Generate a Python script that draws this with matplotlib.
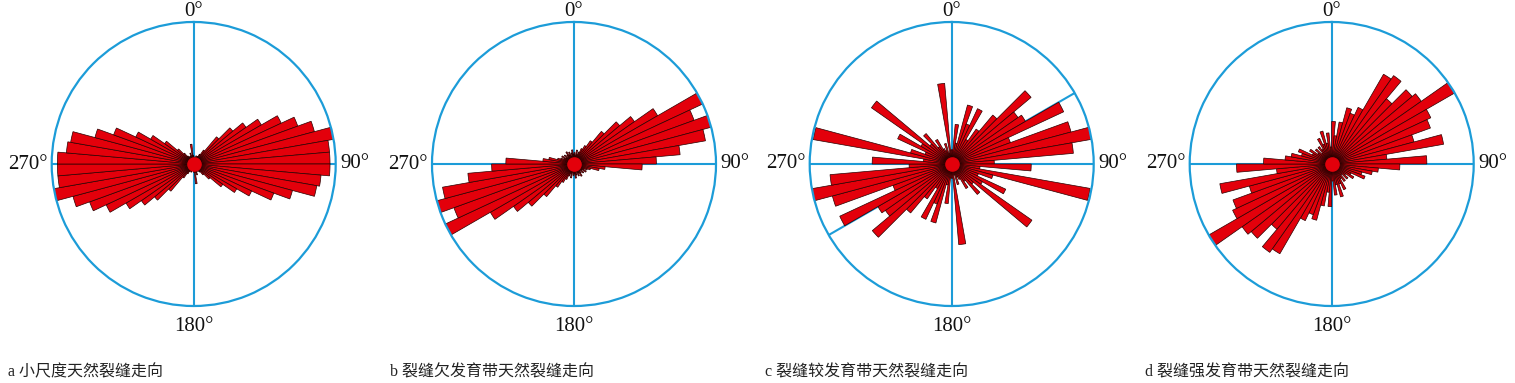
# -*- coding: utf-8 -*-
"""裂缝走向玫瑰花图 (4 个子图), 5° 分组, 走向双向对称."""
import numpy as np
import matplotlib
matplotlib.use("Agg")
import matplotlib.pyplot as plt

# 分组中心角 (0-180°, 5° 一组), 180-360 镜像
bins = np.arange(2.5, 180, 5)

# 相对长度 (最大 = 1)
len_a = [0.05, 0.04, 0.05, 0.06, 0.05, 0.06, 0.08, 0.12, 0.25, 0.36, 0.45, 0.55,
         0.68, 0.78, 0.88, 1.00, 0.96, 0.96, 0.96, 0.90, 0.88, 0.72, 0.60, 0.45,
         0.35, 0.25, 0.15, 0.10, 0.07, 0.06, 0.05, 0.06, 0.08, 0.06, 0.14, 0.06]
len_b = [0.08, 0.06, 0.10, 0.07, 0.09, 0.12, 0.15, 0.20, 0.30, 0.42, 0.52, 0.68,
         1.00, 0.90, 1.00, 0.94, 0.75, 0.58, 0.48, 0.22, 0.18, 0.12, 0.10, 0.08,
         0.10, 0.07, 0.09, 0.06, 0.08, 0.10, 0.07, 0.09, 0.06, 0.08, 0.10, 0.07]
len_c = [0.10, 0.28, 0.15, 0.43, 0.30, 0.43, 0.20, 0.30, 0.45, 0.73, 0.57, 0.60,
         0.87, 0.44, 0.87, 1.00, 0.86, 0.30, 0.56, 0.20, 0.99, 0.30, 0.20, 0.42,
         0.25, 0.69, 0.20, 0.28, 0.15, 0.20, 0.12, 0.10, 0.15, 0.08, 0.57, 0.10]
len_d = [0.30, 0.20, 0.30, 0.41, 0.38, 0.44, 0.73, 0.76, 0.60, 0.74, 0.77, 1.00,
         0.77, 0.74, 0.60, 0.80, 0.39, 0.67, 0.48, 0.33, 0.29, 0.22, 0.25, 0.15,
         0.18, 0.12, 0.15, 0.10, 0.15, 0.12, 0.20, 0.15, 0.24, 0.15, 0.22, 0.12]
mean_dir = [None, 63, 60, 59]   # 优势方位线 (°)
captions = ["a 小尺度天然裂缝走向", "b 裂缝欠发育带天然裂缝走向",
            "c 裂缝较发育带天然裂缝走向", "d 裂缝强发育带天然裂缝走向"]

BLUE = "#1c9cd8"
RED = "#e3000b"
W, H = 1515, 383
cx_list = [193.7, 574, 951.7, 1331.7]
cap_x = [8, 390, 765, 1145]
CY, R = 164, 142
LBL = dict(family="Liberation Serif", fontsize=15, color="#111111")

fig = plt.figure(figsize=(W / 100, H / 100), dpi=100)
for i, vals in enumerate([len_a, len_b, len_c, len_d]):
    cx = cx_list[i]
    ax = fig.add_axes([(cx - R) / W, (H - CY - R) / H, 2 * R / W, 2 * R / H],
                      projection="polar")
    ax.set_theta_zero_location("N")
    ax.set_theta_direction(-1)
    ax.set_ylim(0, 1)
    ax.grid(False)
    ax.set_xticks([]); ax.set_yticks([])
    ax.spines["polar"].set_color(BLUE)
    ax.spines["polar"].set_linewidth(1.6)
    # 十字线
    for t in [0, 90, 180, 270]:
        ax.plot([np.deg2rad(t)] * 2, [0, 1], color=BLUE, lw=1.5, zorder=1)
    if mean_dir[i] is not None:
        for t in [mean_dir[i], mean_dir[i] + 180]:
            ax.plot([np.deg2rad(t)] * 2, [0, 1], color=BLUE, lw=1.5, zorder=1)
    theta = np.deg2rad(np.concatenate([bins, bins + 180]))
    r = np.concatenate([vals, vals])
    ax.bar(theta, r, width=np.deg2rad(5), color=RED, edgecolor="#2a0000",
           lw=0.5, zorder=2)
    ax.plot(0, 0, "o", ms=9.5, color=RED, zorder=3)
    # 方位标注
    ax.text(0, 1.005, "0°", ha="center", va="bottom", **LBL)
    ax.text(np.pi / 2, 1.03, "90°", ha="left", va="center", **LBL)
    ax.text(np.pi, 1.08, "180°", ha="center", va="top", **LBL)
    ax.text(3 * np.pi / 2, 1.03, "270°", ha="right", va="center", **LBL)
    fig.text(cap_x[i] / W, 1 - 372 / H, captions[i], fontsize=11.5, va="center",
             family=["Liberation Serif", "Noto Sans CJK SC"], color="#222222")

fig.savefig("out.png", dpi=100)
